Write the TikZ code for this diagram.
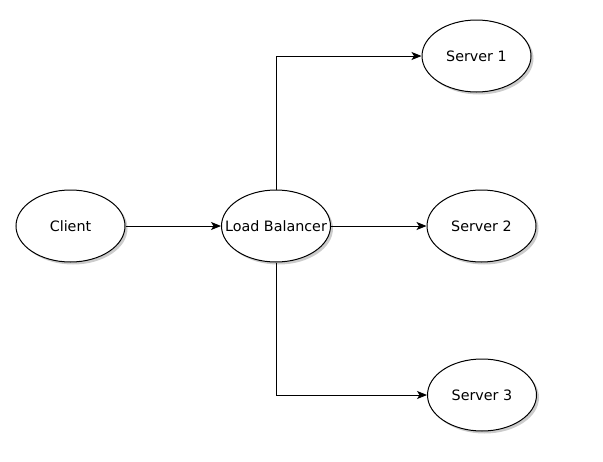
\documentclass[tikz,border=0pt]{standalone}
\usepackage{fontspec}
\setmainfont{DejaVu Sans}
\usepackage{tikz}
\usetikzlibrary{shapes,arrows.meta,shadows}

\begin{document}
\begin{tikzpicture}[
  x=1pt, y=-1pt,
  host/.style={ellipse, draw=black, line width=1pt, fill=white, minimum width=109pt, minimum height=72pt, inner sep=0pt, font=\fontsize{14.3}{16}\selectfont,
    drop shadow={shadow xshift=2.5pt, shadow yshift=-2.5pt, opacity=0.4, fill=gray}},
  link/.style={-{Stealth[length=10pt, width=8pt, inset=2.5pt]}, line width=0.9pt}
]
\useasboundingbox (0,0) rectangle (603,461);

\node[host] (client) at (70.5,226) {Client};
\node[host] (lb) at (276,226) {\makebox[0pt]{Load Balancer}};
\node[host] (srv1) at (476.5,56) {Server 1};
\node[host] (srv2) at (481.5,226) {Server 2};
\node[host] (srv3) at (482,395) {Server 3};

\draw[link] (client) -- (lb);
\draw[link] (lb) -- (srv2);
\draw[link] (lb.north) |- (srv1.west);
\draw[link] (lb.south) |- (srv3.west);
\end{tikzpicture}
\end{document}
